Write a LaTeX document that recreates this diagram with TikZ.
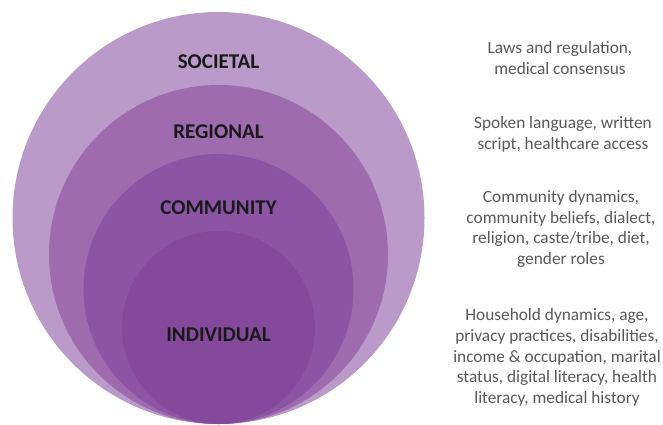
\documentclass[tikz,border=0pt]{standalone}
\usepackage{fontspec}
\setmainfont{Carlito}
\definecolor{cSoc}{HTML}{B99AC8}
\definecolor{cReg}{HTML}{9E6CAE}
\definecolor{cCom}{HTML}{8B55A3}
\definecolor{cInd}{HTML}{85499C}
\definecolor{descgray}{HTML}{595959}
\tikzset{
  ring/.style={circle, draw=none, inner sep=0pt},
  level/.style={font=\fontsize{21}{25}\selectfont\bfseries, text=black!90},
  desc/.style={font=\fontsize{17.3}{20.8}\selectfont, text=descgray, align=center, inner sep=0pt}
}
\begin{document}
\begin{tikzpicture}[x=1pt,y=-1pt]
\useasboundingbox (0,0) rectangle (663,424);
\node[ring, fill=cSoc, minimum size=412pt] (soc) at (218.5,218) {};
\node[ring, fill=cReg, minimum size=339pt] (reg) at (218.5,254.5) {};
\node[ring, fill=cCom, minimum size=270pt] (com) at (218.5,289) {};
\node[ring, fill=cInd, minimum size=193pt] (ind) at (218.5,327.5) {};
\node[level] (lsoc) at (218.5,62) {SOCIETAL};
\node[level] (lreg) at (218.5,132) {REGIONAL};
\node[level] (lcom) at (218.5,208) {COMMUNITY};
\node[level] (lind) at (218.5,335) {INDIVIDUAL};
\node[desc] (dsoc) at (560,58) {Laws and regulation,\\medical consensus};
\node[desc] (dreg) at (563,134) {Spoken language, written\\script, healthcare access};
\node[desc] (dcom) at (561,229) {Community dynamics,\\community beliefs, dialect,\\religion, caste/tribe, diet,\\gender roles};
\node[desc] (dind) at (557,357.5) {Household dynamics, age,\\privacy practices, disabilities,\\income \& occupation, marital\\status, digital literacy, health\\literacy, medical history};
\end{tikzpicture}
\end{document}
